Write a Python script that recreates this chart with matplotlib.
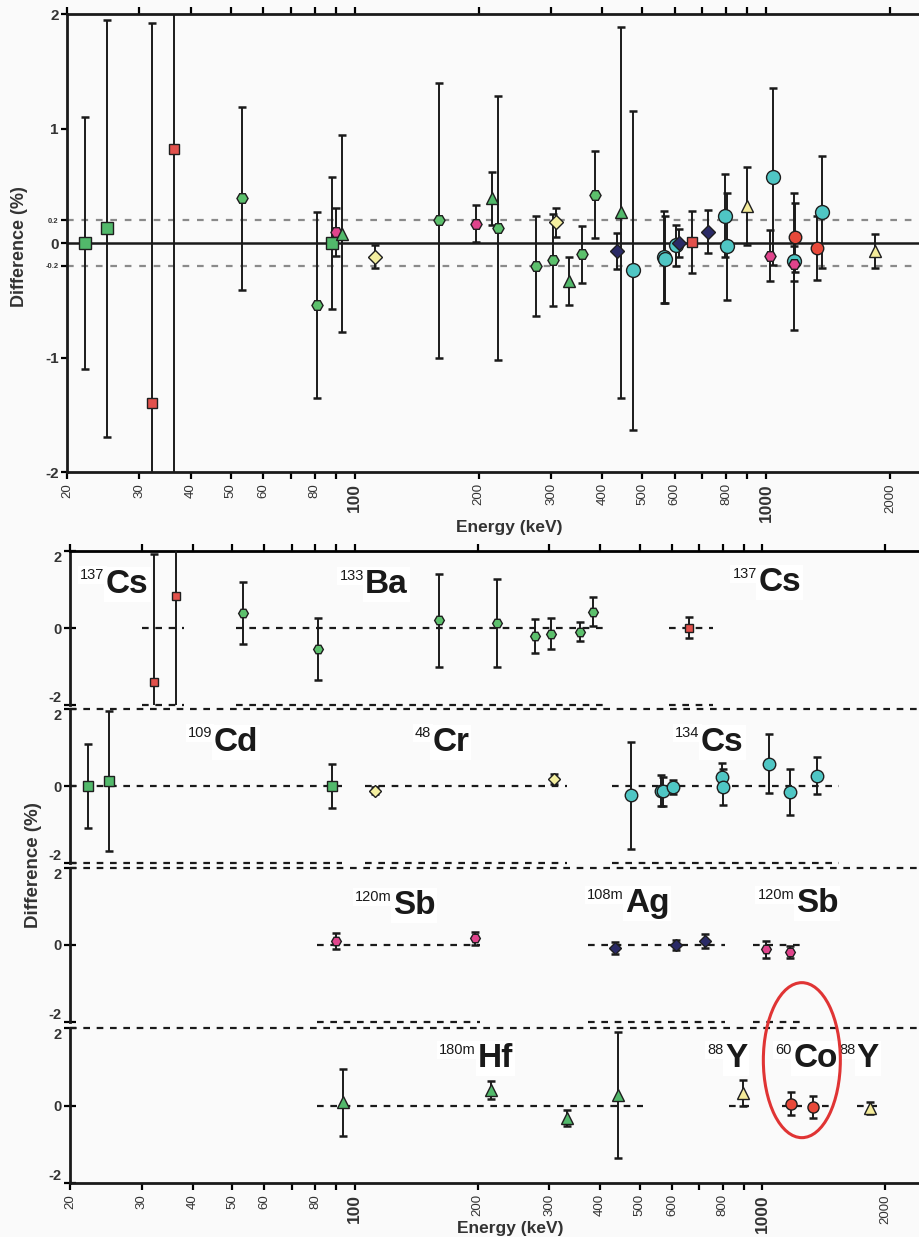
import numpy as np
import matplotlib.pyplot as plt
from matplotlib.patches import Ellipse

plt.rcParams['font.family'] = ['Liberation Sans', 'DejaVu Sans']

# energies (keV), difference (%), uncertainty (%)
cd109_e = [22.1, 25.0, 88.0]
cd109_v = [0.0, 0.13, 0.0]
cd109_u = [1.10, 1.82, 0.58]

cs137_e = [32.1, 36.4, 661.7]
cs137_v = [-1.40, 0.82, 0.01]
cs137_u = [3.32, 3.00, 0.27]

ba133_e = [53.2, 81.0, 160.6, 223.2, 276.4, 302.9, 356.0, 383.9]
ba133_v = [0.39, -0.54, 0.20, 0.13, -0.20, -0.15, -0.10, 0.42]
ba133_u = [0.80, 0.81, 1.20, 1.15, 0.44, 0.40, 0.25, 0.38]

cr48_e = [112.3, 308.2]
cr48_v = [-0.12, 0.18]
cr48_u = [0.10, 0.13]

cs134_e = [475.4, 563.2, 569.3, 604.7, 795.9, 801.9, 1038.6, 1167.9, 1365.2]
cs134_v = [-0.24, -0.12, -0.14, -0.02, 0.24, -0.03, 0.58, -0.16, 0.27]
cs134_u = [1.39, 0.40, 0.38, 0.18, 0.36, 0.47, 0.77, 0.60, 0.49]

sb120m_e = [89.9, 197.3, 1023.3, 1171.3]
sb120m_v = [0.10, 0.17, -0.11, -0.18]
sb120m_u = [0.21, 0.16, 0.22, 0.15]

ag108m_e = [433.9, 614.3, 722.9]
ag108m_v = [-0.07, 0.0, 0.10]
ag108m_u = [0.16, 0.12, 0.19]

hf180m_e = [93.3, 215.3, 332.3, 443.2]
hf180m_v = [0.08, 0.39, -0.33, 0.27]
hf180m_u = [0.86, 0.23, 0.21, 1.62]

y88_e = [898.0, 1836.1]
y88_v = [0.32, -0.07]
y88_u = [0.34, 0.15]

co60_e = [1173.2, 1332.5]
co60_v = [0.05, -0.04]
co60_u = [0.30, 0.28]

tick_vals = [20, 30, 40, 50, 60, 70, 80, 90, 100, 200, 300, 400, 500, 600, 700, 800, 900, 1000, 2000]
tick_text = ['20', '30', '40', '50', '60', '', '80', '', '100', '200', '300', '400', '500', '600', '',
             '800', '', '1000', '2000']

# name: (energies, values, errors, marker, face colour, size)
series = {
    '109Cd': (cd109_e, cd109_v, cd109_u, 's', '#52b96b', 8.5),
    '137Cs': (cs137_e, cs137_v, cs137_u, 's', '#e2514c', 7),
    '133Ba': (ba133_e, ba133_v, ba133_u, 'H', '#5cc06c', 8),
    '48Cr': (cr48_e, cr48_v, cr48_u, 'D', '#f4efa0', 7),
    '134Cs': (cs134_e, cs134_v, cs134_u, 'o', '#4fc6c4', 10),
    '120mSb': (sb120m_e, sb120m_v, sb120m_u, 'H', '#e0448c', 8),
    '108mAg': (ag108m_e, ag108m_v, ag108m_u, 'D', '#2a2a66', 7),
    '180mHf': (hf180m_e, hf180m_v, hf180m_u, '^', '#52b96b', 9),
    '88Y': (y88_e, y88_v, y88_u, '^', '#f4eb9a', 9),
    '60Co': (co60_e, co60_v, co60_u, 'o', '#e8493a', 9),
}

# lower panels: (series, index slice, dashed range, label mass, label symbol, label x, label y)
panels = [
    [('137Cs', slice(0, 2), (30, 38), '137', 'Cs', 24.5, 0.92),
     ('133Ba', slice(None), (51, 416), '133', 'Ba', 106, 0.9),
     ('137Cs', slice(2, 3), (590, 755), '137', 'Cs', 977, 0.95)],
    [('109Cd', slice(None), (20, 93), '109', 'Cd', 45, 0.92),
     ('48Cr', slice(None), (106, 332), '48', 'Cr', 155, 0.92),
     ('134Cs', slice(None), (428, 1540), '134', 'Cs', 707, 0.92)],
    [('120mSb', slice(0, 2), (80.6, 203), '120m', 'Sb', 124, 0.8),
     ('108mAg', slice(None), (374, 810), '108m', 'Ag', 460, 0.85),
     ('120mSb', slice(2, 4), (950, 1278), '120m', 'Sb', 1207, 0.85)],
    [('180mHf', slice(None), (80.6, 510), '180m', 'Hf', 200, 1.0),
     ('88Y', slice(0, 1), (826, 934), '88', 'Y', 810, 1.0),
     ('60Co', slice(None), (1120, 1454), '60', 'Co', 1191, 1.0),
     ('88Y', slice(1, 2), (1706, 1908), '88', 'Y', 1706, 1.0)],
]

bg = '#fafafa'
fig = plt.figure(figsize=(9.2, 12.37), dpi=100, facecolor=bg)


def draw_points(ax, e, v, u, marker, color, ms):
    ax.errorbar(e, v, yerr=u, fmt='none', ecolor='#1a1a1a', elinewidth=1.4,
                capsize=3.2, capthick=1.8, zorder=3)
    ax.plot(e, v, linestyle='none', marker=marker, markersize=ms, markerfacecolor=color,
            markeredgecolor='#1e1e1e', markeredgewidth=1.0, zorder=4)


def style_xticks(ax, labels_on):
    ax.set_xscale('log')
    ax.set_xticks(tick_vals)
    ax.set_xticks([], minor=True)
    ax.set_xticklabels(tick_text if labels_on else [''] * len(tick_vals), rotation=90)
    for lab, val in zip(ax.get_xticklabels(), tick_vals):
        if val in (100, 1000):
            lab.set_fontsize(12.5)
            lab.set_fontweight('bold')
        else:
            lab.set_fontsize(9.5)
        lab.set_color('#333333')
    for tl, val in zip(ax.xaxis.get_major_ticks(), tick_vals):
        if val in (100, 1000):
            tl.tick1line.set_markersize(9)
            tl.tick2line.set_markersize(9)


# ---- top panel: all nuclides together
ax = fig.add_axes([67 / 920, 1 - 472 / 1237, 853 / 920, 458 / 1237])
ax.set_facecolor(bg)
for name, (e, v, u, m, c, ms) in series.items():
    draw_points(ax, e, v, u, m, c, ms)
ax.axhline(0, color='#1a1a1a', lw=1.8, zorder=2)
for yy in (0.2, -0.2):
    ax.axhline(yy, color='#8a8a8a', lw=1.6, linestyle=(0, (3, 3.5)), zorder=1)
ax.set_xlim(20, 2365)
ax.set_ylim(-2, 2)
style_xticks(ax, True)
ax.tick_params(axis='x', which='major', direction='out', length=5, width=1.6,
               top=True, bottom=True, pad=3)
ax.set_yticks([-2, -1, -0.2, 0, 0.2, 1, 2])
ax.set_yticklabels(['-2', '-1', '-0.2', '0', '0.2', '1', '2'])
for lab in ax.get_yticklabels():
    t = lab.get_text()
    lab.set_fontsize(5.5 if '.' in t else 11)
    lab.set_fontweight('bold')
    lab.set_color('#333333')
ax.tick_params(axis='y', direction='out', length=4, width=1.6, pad=2)
ax.spines['right'].set_visible(False)
for s in ('left', 'top', 'bottom'):
    ax.spines[s].set_linewidth(2)
    ax.spines[s].set_color('#1a1a1a')
fig.text(20 / 920, 1 - 247 / 1237, 'Difference (%)', rotation=90, ha='center', va='center',
         fontsize=13, fontweight='bold', color='#333333')
fig.text(509 / 920, 1 - 528 / 1237, 'Energy (keV)', ha='center', va='center',
         fontsize=12.5, fontweight='bold', color='#333333')

# ---- lower panels: one row per group of nuclides
rows = [(551, 705), (709, 863), (868, 1022), (1028, 1183)]
axes = []
for i, (groups, (ytop, ybot)) in enumerate(zip(panels, rows)):
    a = fig.add_axes([70 / 920, 1 - ybot / 1237, 850 / 920, (ybot - ytop) / 1237])
    a.set_facecolor('none')
    a.set_xlim(20, 2437)
    a.set_ylim(-2, 2)
    style_xticks(a, i == 3)
    for name, sl, (x0, x1), mass, sym, lx, ly in groups:
        e, v, u, m, c, ms = series[name]
        draw_points(a, e[sl], v[sl], u[sl], m, c, ms - 1)
        for yy in ((0,) if i == 3 else (0, -2)):
            a.plot([x0, x1], [yy, yy], color='#1a1a1a', lw=1.6, linestyle=(0, (3, 3)),
                   zorder=2, clip_on=False)
        a.text(lx, ly, sym, fontsize=24, fontweight='bold', color='#1a1a1a', ha='left',
               va='baseline', zorder=6, bbox=dict(facecolor='white', edgecolor='none', pad=1.5))
        a.annotate(mass, xy=(lx, ly), xytext=(-1, 9.5), textcoords='offset points',
                   fontsize=10.5, color='#1a1a1a', ha='right', va='baseline', zorder=6,
                   bbox=dict(facecolor='white', edgecolor='none', pad=1.5))
    a.spines['right'].set_visible(False)
    a.spines['left'].set_linewidth(2)
    a.spines['left'].set_color('#1a1a1a')
    if i == 0:
        a.spines['top'].set_linewidth(2)
        a.tick_params(axis='x', which='major', direction='out', length=5, width=1.6,
                      top=True, bottom=False)
    else:
        a.spines['top'].set_visible(False)
        a.axhline(2, color='#1a1a1a', lw=1.6, linestyle=(0, (3, 3)), clip_on=False)
    if i == 3:
        a.spines['bottom'].set_linewidth(2)
        a.spines['bottom'].set_color('#1a1a1a')
        a.tick_params(axis='x', which='major', direction='out', length=5, width=1.6,
                      top=False, bottom=True, pad=3)
    else:
        a.spines['bottom'].set_visible(False)
        if i != 0:
            a.tick_params(axis='x', which='major', length=0, top=False, bottom=False)
    a.set_yticks([-2, 0, 2])
    a.set_yticklabels(['-2', '0', '2'])
    labs = a.get_yticklabels()
    labs[0].set_va('bottom')
    labs[2].set_va('top')
    for lab in labs:
        lab.set_fontsize(10.5)
        lab.set_fontweight('bold')
        lab.set_color('#333333')
    a.tick_params(axis='y', direction='inout', length=8, width=1.6, pad=2)
    axes.append(a)

# red ring around the 60Co pair
a = axes[3]
cx, cy = a.transAxes.inverted().transform(a.transData.transform((1250, 1.17)))
ring = Ellipse((cx, cy), 77 / 850, 155 / 155, transform=a.transAxes, fill=False,
               edgecolor='#e03434', lw=2.2, clip_on=False, zorder=7)
a.add_patch(ring)

fig.text(33 / 920, 1 - 865 / 1237, 'Difference (%)', rotation=90, ha='center', va='center',
         fontsize=13.5, fontweight='bold', color='#333333')
fig.text(510 / 920, 1 - 1228 / 1237, 'Energy (keV)', ha='center', va='center',
         fontsize=12.5, fontweight='bold', color='#333333')

fig.savefig('out.png', dpi=100, facecolor=bg)
